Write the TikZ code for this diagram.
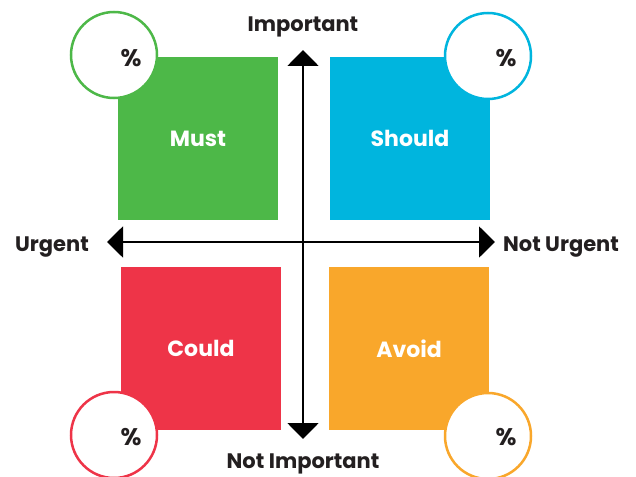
\documentclass[tikz,border=0pt]{standalone}
\usepackage{fontspec}
\setmainfont{Poppins}
\usetikzlibrary{arrows.meta}
\definecolor{cgreen}{HTML}{4DB848}
\definecolor{cblue}{HTML}{00B5DE}
\definecolor{cred}{HTML}{EE3448}
\definecolor{corange}{HTML}{F9A72B}
\definecolor{txt}{HTML}{231F20}
\begin{document}
\begin{tikzpicture}[x=1pt,y=-1pt,
 quad/.style={minimum width=160pt,minimum height=163pt,inner sep=0pt,text=white,font=\bfseries\fontsize{22}{26}\selectfont},
 pct/.style={circle,draw,fill=white,line width=2.5pt,minimum size=86pt,inner sep=0pt},
 pcttext/.style={font=\bfseries\fontsize{24}{26}\selectfont,text=txt},
 lbl/.style={font=\bfseries\fontsize{21}{24}\selectfont,text=txt,inner sep=0pt,anchor=base},
 axis/.style={line width=2pt,draw=black,{Triangle[width=31pt,length=16pt]}-{Triangle[width=31pt,length=16pt]}}]
\useasboundingbox (0,0) rectangle (636,476);
\fill[white] (0,0) rectangle (636,476);
% quadrants
\node[quad,fill=cgreen] (must) at (198,138.5) {Must};
\node[quad,fill=cblue] (should) at (410,138.5) {Should};
\node[quad,fill=cred] (could) at (201,348.5) {Could};
\node[quad,fill=corange] (avoid) at (409,348.5) {Avoid};
% circles
\node[pct,draw=cgreen] (c1) at (114,55) {};
\node[pct,draw=cblue] (c2) at (488,56) {};
\node[pct,draw=cred] (c3) at (114,435) {};
\node[pct,draw=corange] (c4) at (488,436) {};
\node[pcttext] (p1) at (131,58) {\%};
\node[pcttext] (p2) at (506,58) {\%};
\node[pcttext] (p3) at (131,437) {\%};
\node[pcttext] (p4) at (506,437) {\%};
% axes
\coordinate (top) at (303,50);
\coordinate (bot) at (303,439);
\coordinate (left) at (107,242);
\coordinate (right) at (495,242);
\draw[axis] (bot) -- (top);
\draw[axis] (left) -- (right);
% labels
\node[lbl] (imp) at (303,32) {Important};
\node[lbl] (nimp) at (303,468) {Not Important};
\node[lbl] (urg) at (52,251) {Urgent};
\node[lbl] (nurg) at (561,251) {Not Urgent};
\end{tikzpicture}
\end{document}
